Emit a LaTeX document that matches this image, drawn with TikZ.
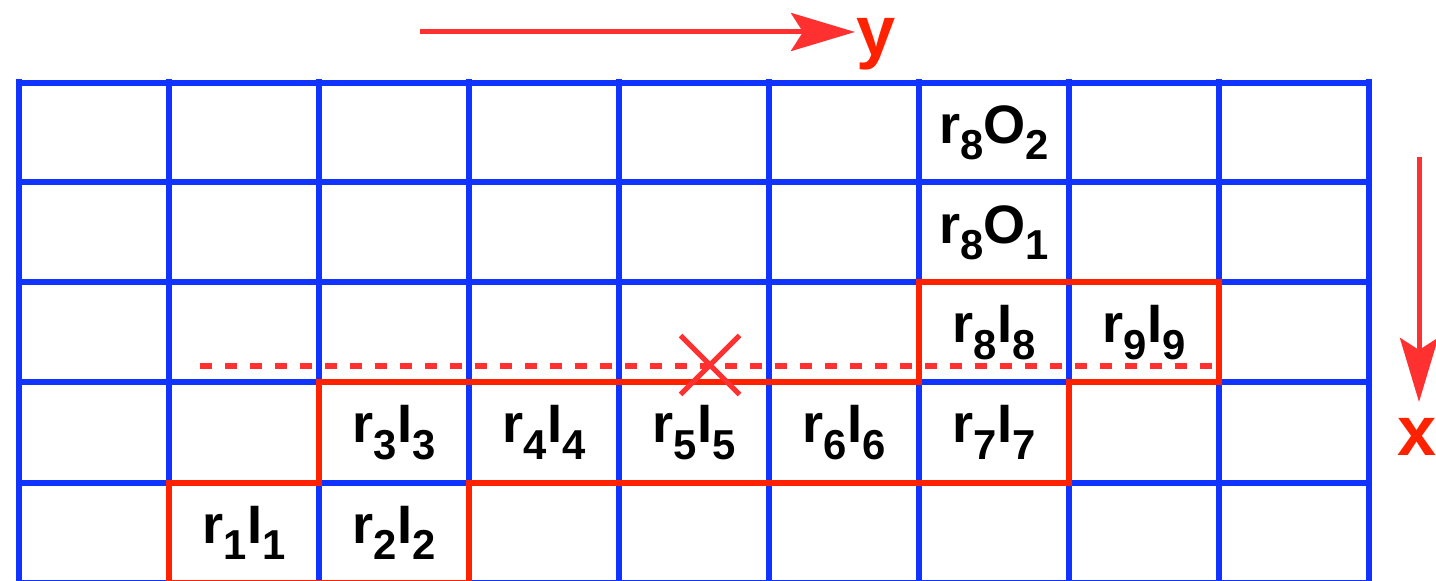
\documentclass[tikz,border=0pt]{standalone}
\usepackage{fontspec}
\setmainfont{Liberation Sans}
\usepackage{tikz}
\usetikzlibrary{arrows.meta, positioning, shapes.misc}
\definecolor{gridBlue}{RGB}{17, 51, 255}
\definecolor{pathRed}{RGB}{255, 34, 0}
\definecolor{markRed}{RGB}{255, 48, 48}
\newcommand{\subsz}{\fontsize{11.9}{12}\selectfont}
\newcommand{\rl}[4]{#1\raisebox{-0.3em}{\subsz #2}#3\raisebox{-0.3em}{\subsz #4}}

\begin{document}
\begin{tikzpicture}
      \useasboundingbox (-0.19,0.825) rectangle (14.17,-4.985);
      \tikzset{cell/.style={font=\fontsize{15.4}{18}\selectfont\bfseries, inner sep=0pt},
               axisarrow/.style={-{Stealth[length=0.64cm, width=0.38cm, inset=0.12cm]}, line width=0.05cm, markRed},
               axislabel/.style={font=\fontsize{20}{22}\selectfont\bfseries, text=pathRed, inner sep=0pt}}

      % grid
      \draw[gridBlue, line width=0.06cm, line cap=rect, xstep=1.5, ystep=1] (0,-5) grid (13.5,0);
      % occupied region
      \draw[pathRed, line width=0.06cm, line join=miter] (1.5,-5) -- (1.5,-4) -- (3,-4) -- (3,-3) -- (9,-3) -- (9,-2) -- (12,-2) -- (12,-3) -- (10.5,-3) -- (10.5,-4) -- (4.5,-4) -- (4.5,-5) -- cycle;

      \node[cell] (r1) at (2.25,-4.5) {\rl{r}{1}{I}{1}};
      \node[cell] (r2) at (3.75,-4.5) {\rl{r}{2}{I}{2}};
      \node[cell] (r3) at (3.75,-3.5) {\rl{r}{3}{I}{3}};
      \node[cell] (r4) at (5.25,-3.5) {\rl{r}{4}{I}{4}};
      \node[cell] (r5) at (6.75,-3.5) {\rl{r}{5}{I}{5}};
      \node[cell] (r6) at (8.25,-3.5) {\rl{r}{6}{I}{6}};
      \node[cell] (r7) at (9.75,-3.5) {\rl{r}{7}{I}{7}};
      \node[cell] (r8) at (9.75,-2.5) {\rl{r}{8}{I}{8}};
      \node[cell] (r9) at (11.25,-2.5) {\rl{r}{9}{I}{9}};
      \node[cell] (out1) at (9.75,-1.5) {\rl{r}{8}{O}{1}};
      \node[cell] (out2) at (9.75,-0.5) {\rl{r}{8}{O}{2}};

      % cut line and hit
      \coordinate (cutL) at (1.81,-2.835);
      \coordinate (cutR) at (11.96,-2.835);
      \draw[markRed, line width=0.06cm, dash pattern=on 0.12cm off 0.13cm] (cutL) -- (cutR);
      \node[cross out, draw=markRed, line width=0.05cm, minimum width=0.54cm, minimum height=0.54cm, inner sep=0pt] (hit) at (6.91,-2.825) {};

      % axes
      \coordinate (yfrom) at (4.01,0.505);
      \coordinate (yto) at (8.36,0.505);
      \node[axislabel, anchor=base west] (ylab) at (8.37,0.27) {y};
      \draw[axisarrow] (yfrom) -- (yto);
      \coordinate (xfrom) at (14.0,-0.745);
      \coordinate (xto) at (14.0,-3.195);
      \node[axislabel, anchor=base] (xlab) at (13.98,-3.725) {x};
      \draw[axisarrow] (xfrom) -- (xto);
    \end{tikzpicture}
\end{document}
